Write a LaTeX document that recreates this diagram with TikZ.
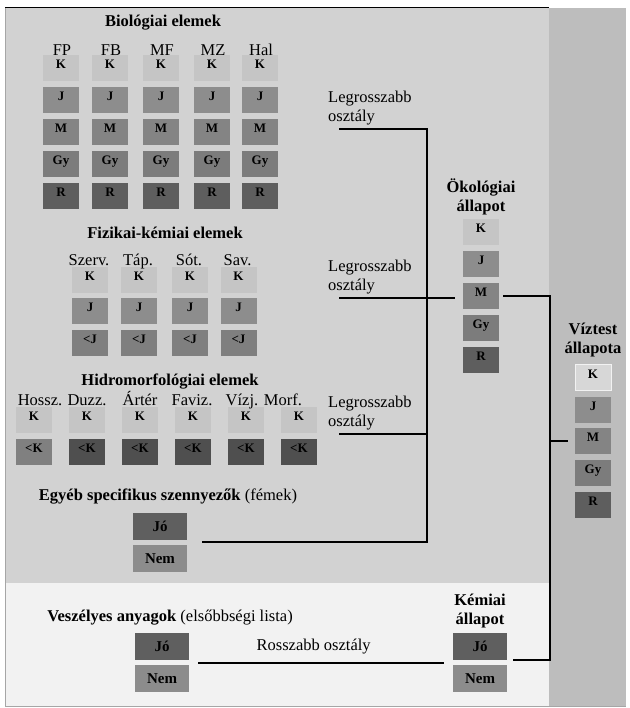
\documentclass[tikz,border=0pt]{standalone}
\usepackage{fontspec}
\setmainfont{Liberation Serif}
\usepackage{xcolor}
\definecolor{ecobg}{HTML}{D2D2D2}
\definecolor{ecolow}{HTML}{F2F2F2}
\definecolor{ecostrip}{HTML}{BDBDBD}
\definecolor{clsK}{HTML}{C5C5C5}
\definecolor{clsJ}{HTML}{8D8D8D}
\definecolor{clsM}{HTML}{848484}
\definecolor{clsGy}{HTML}{7C7C7C}
\definecolor{clsR}{HTML}{5E5E5E}
\definecolor{clsLJ}{HTML}{7F7F7F}
\definecolor{clsLK}{HTML}{4F4F4F}
\definecolor{clsLKa}{HTML}{808080}
\definecolor{clsJo}{HTML}{5F5F5F}
\definecolor{clsNem}{HTML}{8C8C8C}
\definecolor{clsVK}{HTML}{D7D7D7}
\usepackage{tikz}
\usetikzlibrary{positioning,calc}
\tikzset{
  ecobox/.style={minimum width=36pt,minimum height=26pt,inner sep=0pt,font=\bfseries\fontsize{13}{13}\selectfont,text height=9pt,text depth=8pt},
  ecowide/.style={minimum width=54pt,minimum height=27pt,inner sep=0pt,font=\bfseries\fontsize{15}{15}\selectfont},
  ecotitle/.style={font=\bfseries\fontsize{16.5}{19}\selectfont,align=center,inner sep=0pt},
  ecolabel/.style={font=\fontsize{16.5}{19}\selectfont,inner sep=0pt},
  ecoline/.style={line width=2pt},
}

\begin{document}
\begin{tikzpicture}[x=1pt,y=-1pt,node distance=5.5pt]
\useasboundingbox (0,0) rectangle (629,708);
\fill[white] (0,0) rectangle (629,708);
% panels
\fill[ecobg] (5,8) rectangle (549,583);
\fill[ecolow] (5,583) rectangle (549,706);
\fill[ecostrip] (549,8) rectangle (626,706);
\draw[line width=1pt] (5,8) -- (549,8);
\draw[gray!70,line width=0.8pt] (5,8) -- (5,706) -- (626,706);

% biological elements
\foreach \col/\x in {FP/61,FB/110,MF/161,MZ/212,Hal/260}{
  \node[ecobox,fill=clsK] (bio-\col-K) at (\x,68.5) {K};
  \foreach \prev/\cls in {K/J,J/M,M/Gy,Gy/R}
    \node[ecobox,fill=cls\cls,below=of bio-\col-\prev] (bio-\col-\cls) {\cls};
  \node[ecolabel,anchor=base] (bio-\col-lab) at ([xshift=1pt]bio-\col-K.north) {\col};
}
\node[ecotitle,anchor=base] (biotitle) at ([xshift=2pt,yshift=29pt]bio-MF-K.north) {Biológiai elemek};

% physico-chemical elements
\foreach \col/\x/\txt in {szerv/90/Szerv.,tap/139/Táp.,sot/190/Sót.,sav/238.5/Sav.}{
  \node[ecobox,fill=clsK] (fk-\col-K) at (\x,279.5) {K};
  \node[ecobox,fill=clsJ,below=of fk-\col-K] (fk-\col-J) {J};
  \node[ecobox,fill=clsLJ,below=of fk-\col-J] (fk-\col-LJ) {<J};
  \node[ecolabel,anchor=base] (fk-\col-lab) at ([xshift=-1pt,yshift=1pt]fk-\col-K.north) {\txt};
}
\node[ecotitle,anchor=base] (fktitle) at ([xshift=26pt,yshift=28pt]fk-tap-K.north) {Fizikai-kémiai elemek};

% hydromorphological elements
\foreach \col/\x/\dx/\txt/\low in {hossz/34/6/Hossz./clsLKa,duzz/87/0/Duzz./clsLK,arter/140/0/Ártér/clsLK,faviz/193/-1/Faviz./clsLK,vizj/246/-4/Vízj./clsLK,morf/299/-16/Morf./clsLK}{
  \node[ecobox,fill=clsK] (hyd-\col-K) at (\x,420) {K};
  \node[ecobox,fill=\low,below=of hyd-\col-K] (hyd-\col-LK) {<K};
  \node[ecolabel,anchor=base] (hyd-\col-lab) at ([xshift=\dx pt,yshift=1.5pt]hyd-\col-K.north) {\txt};
}
\node[ecotitle,anchor=base] (hydtitle) at ([xshift=30pt,yshift=21pt]hyd-arter-K.north) {Hidromorfológiai elemek};

% other specific pollutants
\node[ecowide,fill=clsJo] (egyJo) at (160,526.5) {Jó};
\node[ecowide,fill=clsNem,below=5pt of egyJo] (egyNem) {Nem};
\node[ecotitle,anchor=base] (egytitle) at ([xshift=8pt,yshift=12pt]egyJo.north) {Egyéb specifikus szennyezők \mdseries(fémek)};

% hazardous substances
\node[ecowide,fill=clsJo] (vesJo) at (162,646) {Jó};
\node[ecowide,fill=clsNem,below=5pt of vesJo] (vesNem) {Nem};
\node[ecotitle,anchor=base] (vestitle) at ([xshift=8pt,yshift=11pt]vesJo.north) {Veszélyes anyagok \mdseries(elsőbbségi lista)};

% chemical status
\node[ecowide,fill=clsJo] (kemJo) at (480,646) {Jó};
\node[ecowide,fill=clsNem,below=5pt of kemJo] (kemNem) {Nem};
\node[ecotitle,above=4pt of kemJo] (kemtitle) {Kémiai\\állapot};

% ecological status
\node[ecobox,fill=clsK] (oko-K) at (481,232) {K};
\foreach \prev/\cls in {K/J,J/M,M/Gy,Gy/R}
  \node[ecobox,fill=cls\cls,below=of oko-\prev] (oko-\cls) {\cls};
\node[ecotitle,above=3.5pt of oko-K] (okotitle) {Ökológiai\\állapot};

% water body status
\node[ecobox,fill=clsVK,draw=ecolow,line width=0.6pt] (viz-K) at (593,377.5) {K};
\foreach \prev/\cls in {K/J,J/M,M/Gy,Gy/R}
  \node[ecobox,fill=cls\cls,below=of viz-\prev] (viz-\cls) {\cls};
\node[ecotitle,above=7pt of viz-K] (viztitle) {Víztest\\állapota};

% worst class connectors
\coordinate (lg1) at (339,129);
\coordinate (lg2) at (339,298);
\coordinate (lg3) at (339,434);
\coordinate (brk) at (427,129);
\coordinate (rbrk) at (550,296);
\coordinate (egyend) at ([xshift=15pt,yshift=-2pt]egyJo.south east);
\foreach \i in {1,2,3}
  \node[ecolabel,align=left,anchor=south west] (lgt\i) at ([xshift=-11pt,yshift=3.5pt]lg\i) {Legrosszabb\\osztály};
\draw[ecoline] (lg1) -- (brk) -- (brk |- egyend) -- (egyend);
\draw[ecoline] (lg3) -- (lg3 -| brk);
\draw[ecoline] (lg2) -- ([xshift=-8pt]lg2 -| oko-M.west);
\draw[ecoline] ([xshift=4pt]oko-M.east) -- (oko-M.east -| rbrk) -- (rbrk |- kemJo.south) -- ([xshift=6pt]kemJo.south east);
\draw[ecoline] (rbrk |- viz-M) -- ([xshift=-7pt]viz-M.west);
\draw[ecoline] ([xshift=9pt,yshift=-3pt]vesJo.south east) -- node[ecolabel,above=8pt,pos=0.47] (rosszlab) {Rosszabb osztály} ([xshift=-9pt,yshift=-3pt]kemJo.south west);
\end{tikzpicture}
\end{document}
